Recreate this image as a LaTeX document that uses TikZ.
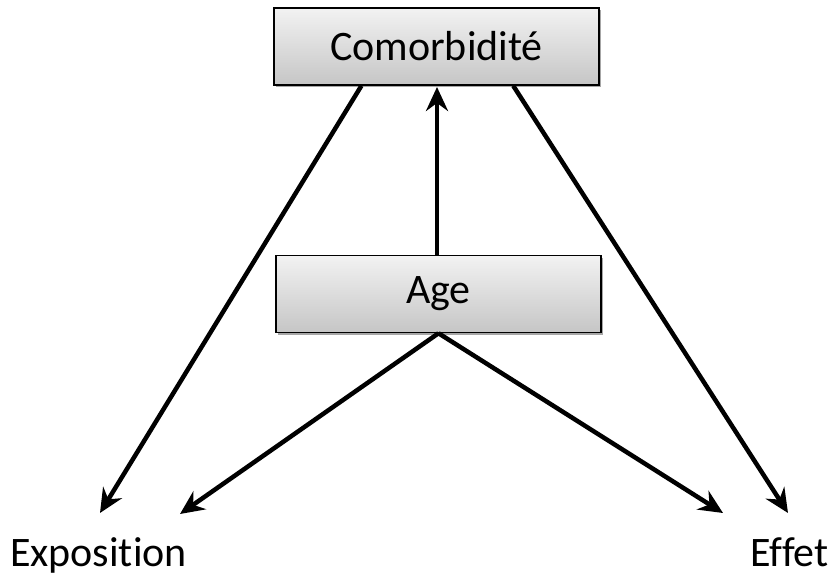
\documentclass[tikz,border=0pt]{standalone}
\usepackage{fontspec}
\setmainfont{Carlito}[Ligatures={NoCommon}]
\usetikzlibrary{arrows.meta,shadows,calc}
\tikzset{
  boxnode/.style={draw=black, line width=1.5bp, minimum width=325bp, minimum height=77bp,
    top color=gray!10, bottom color=gray!45, inner sep=0pt,
    drop shadow={shadow xshift=2bp, shadow yshift=-2bp, fill=black, opacity=0.35},
    font=\fontsize{42bp}{50bp}\selectfont},
  labelnode/.style={inner sep=0pt, font=\fontsize{42bp}{50bp}\selectfont},
  arr/.style={line width=4.5bp, -{Stealth[length=24bp, width=22bp, inset=8bp]}}
}
\begin{document}
\begin{tikzpicture}[x=1bp,y=-1bp]
\useasboundingbox (0,0) rectangle (831,576);
\node[boxnode] (comor) at (436.5,46.5) {Comorbidité};
\node[boxnode] (age) at (438.5,294) {Age};
\node[labelnode, anchor=base] (expo) at (98.5,566) {Exposition};
\node[labelnode, anchor=base] (effet) at (789.5,566) {Effet};
\coordinate (c1) at ($(comor.south west)!0.27!(comor.south east)$);
\coordinate (c2) at ($(comor.south west)!0.735!(comor.south east)$);
\coordinate (tipE1) at (100,513);
\coordinate (tipE2) at (180,514);
\coordinate (tipF1) at (723,513);
\coordinate (tipF2) at (788,513);
\coordinate (tipC) at (437,87);
\draw[arr] (c1) -- (tipE1);
\draw[arr] (c2) -- (tipF2);
\draw[arr] (age.north -| tipC) -- (tipC);
\draw[arr] (age.south) -- (tipE2);
\draw[arr] (age.south) -- (tipF1);
\end{tikzpicture}
\end{document}
